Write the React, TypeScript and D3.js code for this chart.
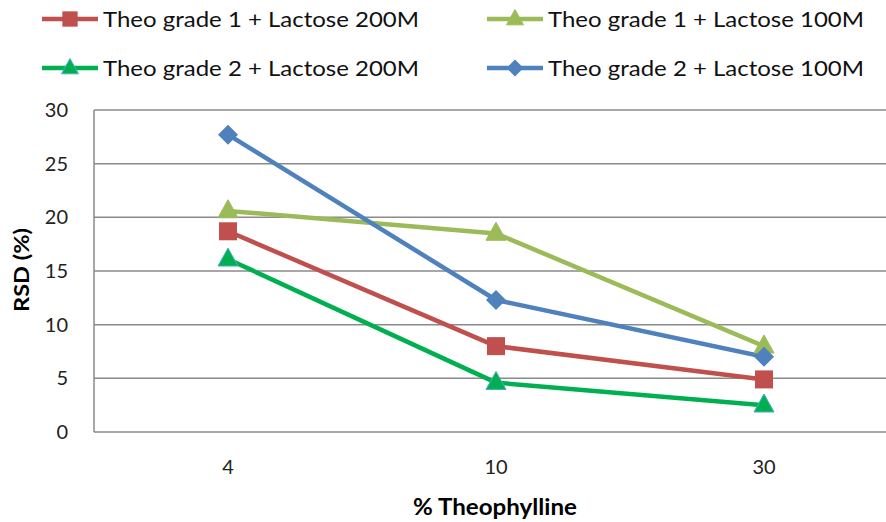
import React from "react";
import * as d3 from "d3";

const categories = ["4", "10", "30"];
const seriesNames = [
  "Theo grade 1 + Lactose 200M",
  "Theo grade 1 + Lactose 100M",
  "Theo grade 2 + Lactose 200M",
  "Theo grade 2 + Lactose 100M",
];
const g1L200 = [18.7, 8.0, 4.9];
const g1L100 = [20.6, 18.5, 8.0];
const g2L200 = [16.1, 4.6, 2.5];
const g2L100 = [27.7, 12.3, 7.0];
const yTicks = [0, 5, 10, 15, 20, 25, 30];

const W = 886;
const H = 522;
const left = 94;
const right = 898;
const top = 110;
const bottom = 432;
const font = "Lato, 'Open Sans', sans-serif";

type Series = { name: string; values: number[]; color: string; stroke: string; marker: string };

const series: Series[] = [
  { name: seriesNames[0], values: g1L200, color: "#C0504D", stroke: "#C0504D", marker: "square" },
  { name: seriesNames[1], values: g1L100, color: "#9BBB59", stroke: "#9BBB59", marker: "triangle" },
  { name: seriesNames[2], values: g2L200, color: "#00B050", stroke: "#00B050", marker: "triangle2" },
  { name: seriesNames[3], values: g2L100, color: "#4F81BD", stroke: "#4F81BD", marker: "diamond" },
];

function Marker({ s, x, y, scale = 1 }: { s: Series; x: number; y: number; scale?: number }) {
  if (s.marker === "square") {
    const a = 18 * scale;
    return <rect x={x - a / 2} y={y - a / 2} width={a} height={a} fill={s.color} />;
  }
  if (s.marker === "diamond") {
    const r = 10 * scale;
    return <path d={`M${x},${y - r}L${x + r},${y}L${x},${y + r}L${x - r},${y}Z`} fill={s.color} />;
  }
  const w = 10 * scale;
  const h = 18 * scale;
  const edge = s.marker === "triangle2" ? "#4BACC6" : s.color;
  return (
    <path
      d={`M${x},${y - h * 0.62}L${x + w},${y + h * 0.38}L${x - w},${y + h * 0.38}Z`}
      fill={s.color}
      stroke={edge}
      strokeWidth={1}
    />
  );
}

export default function App() {
  const x = d3.scaleBand<string>().domain(categories).range([left, right]);
  const y = d3.scaleLinear().domain([0, 30]).range([bottom, top]);
  const cx = (c: string) => (x(c) as number) + x.bandwidth() / 2;
  const line = d3
    .line<number>()
    .x((_, i) => cx(categories[i]))
    .y((v) => y(v));

  const legendPos = [
    { lx: 42, ly: 19 },
    { lx: 487, ly: 19 },
    { lx: 42, ly: 68 },
    { lx: 487, ly: 68 },
  ];

  return (
    <svg width={W} height={H} style={{ position: "absolute", left: 0, top: 0, background: "#fff" }}>
      {/* gridlines */}
      {yTicks.map((t) => (
        <line key={t} x1={left} x2={right} y1={y(t)} y2={y(t)} stroke="#8a8a8a" strokeWidth={1.5} />
      ))}
      <line x1={left} x2={left} y1={top} y2={bottom} stroke="#8a8a8a" strokeWidth={1.5} />
      {/* y tick labels */}
      {yTicks.map((t) => (
        <text key={t} x={68} y={y(t) + 7} textAnchor="end" fontFamily={font} fontSize={20} fill="#222">
          {t}
        </text>
      ))}
      {/* x tick labels */}
      {categories.map((c) => (
        <text key={c} x={cx(c)} y={474} textAnchor="middle" fontFamily={font} fontSize={20} fill="#222">
          {c}
        </text>
      ))}
      <text
        x={495}
        y={515}
        textAnchor="middle"
        fontFamily={font}
        fontSize={22}
        fontWeight="bold"
        fill="#000"
        textLength={164}
        lengthAdjust="spacingAndGlyphs"
      >
        % Theophylline
      </text>
      <text
        transform={`translate(29,270) rotate(-90)`}
        textAnchor="middle"
        fontFamily={font}
        fontSize={21}
        fontWeight="bold"
        fill="#000"
        textLength={84}
        lengthAdjust="spacingAndGlyphs"
      >
        RSD (%)
      </text>
      {/* lines */}
      {series.map((s) => (
        <path key={s.name} d={line(s.values) || ""} fill="none" stroke={s.stroke} strokeWidth={4.5} strokeLinejoin="round" />
      ))}
      {series.map((s) =>
        s.values.map((v, i) => <Marker key={s.name + i} s={s} x={cx(categories[i])} y={y(v)} />)
      )}
      {/* legend */}
      {series.map((s, i) => {
        const p = legendPos[i];
        return (
          <g key={s.name}>
            <line x1={p.lx} x2={p.lx + 56} y1={p.ly} y2={p.ly} stroke={s.stroke} strokeWidth={4.5} />
            <Marker s={s} x={p.lx + 28} y={p.ly} scale={0.85} />
            <text
              x={p.lx + 61}
              y={p.ly + 7.5}
              fontFamily={font}
              fontSize={21}
              fill="#111"
              textLength={316}
              lengthAdjust="spacingAndGlyphs"
            >
              {s.name}
            </text>
          </g>
        );
      })}
    </svg>
  );
}
